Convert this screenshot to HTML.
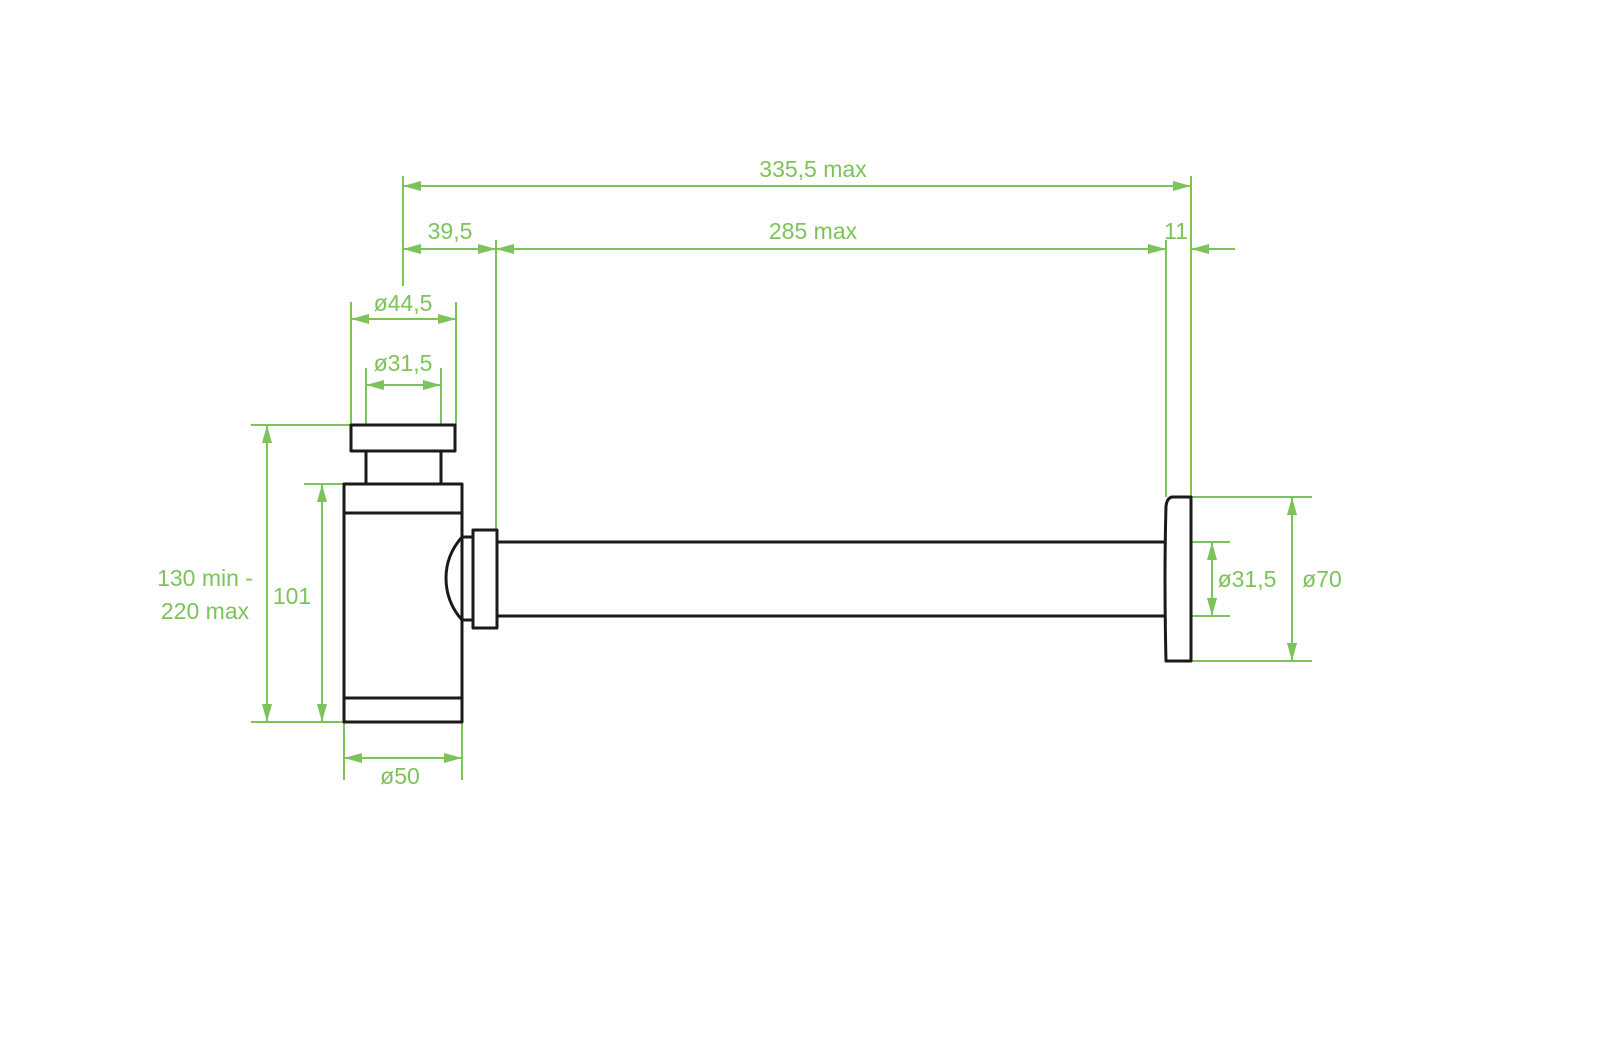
<!DOCTYPE html>
<html><head><meta charset="utf-8"><style>
html,body{margin:0;padding:0;background:#fff;}
svg{display:block;}
text{font-family:"Liberation Sans",sans-serif;font-size:23px;fill:#7cc35a;}
</style></head><body>
<svg width="1600" height="1060" viewBox="0 0 1600 1060" xmlns="http://www.w3.org/2000/svg">
<defs>
<marker id="a" viewBox="0 0 18 10" refX="18" refY="5" markerWidth="18" markerHeight="10" markerUnits="userSpaceOnUse" orient="auto-start-reverse"><path d="M0,0 L18,5 L0,10 Z" fill="#7cc35a"/></marker>
</defs>
<g stroke="#7cc35a" stroke-width="2" fill="none">
<line x1="403" y1="176" x2="403" y2="286"/>
<line x1="1191" y1="176" x2="1191" y2="497"/>
<line x1="496" y1="240" x2="496" y2="530"/>
<line x1="1166" y1="240" x2="1166" y2="497"/>
<line x1="351" y1="302" x2="351" y2="425"/>
<line x1="456" y1="302" x2="456" y2="425"/>
<line x1="366" y1="368" x2="366" y2="425"/>
<line x1="441" y1="368" x2="441" y2="425"/>
<line x1="251" y1="425" x2="351" y2="425"/>
<line x1="251" y1="722" x2="344" y2="722"/>
<line x1="304" y1="484" x2="344" y2="484"/>
<line x1="344" y1="722" x2="344" y2="780"/>
<line x1="462" y1="722" x2="462" y2="780"/>
<line x1="1191" y1="542" x2="1230" y2="542"/>
<line x1="1191" y1="616" x2="1230" y2="616"/>
<line x1="1191" y1="497" x2="1312" y2="497"/>
<line x1="1191" y1="661" x2="1312" y2="661"/>
<line x1="403" y1="186" x2="1191" y2="186" marker-start="url(#a)" marker-end="url(#a)"/>
<line x1="403" y1="249" x2="496" y2="249" marker-start="url(#a)" marker-end="url(#a)"/>
<line x1="496" y1="249" x2="1166" y2="249" marker-start="url(#a)" marker-end="url(#a)"/>
<line x1="1235" y1="249" x2="1191" y2="249" marker-end="url(#a)"/>
<line x1="351" y1="319" x2="456" y2="319" marker-start="url(#a)" marker-end="url(#a)"/>
<line x1="366" y1="385" x2="441" y2="385" marker-start="url(#a)" marker-end="url(#a)"/>
<line x1="267" y1="425" x2="267" y2="722" marker-start="url(#a)" marker-end="url(#a)"/>
<line x1="322" y1="484" x2="322" y2="722" marker-start="url(#a)" marker-end="url(#a)"/>
<line x1="344" y1="758" x2="462" y2="758" marker-start="url(#a)" marker-end="url(#a)"/>
<line x1="1212" y1="542" x2="1212" y2="616" marker-start="url(#a)" marker-end="url(#a)"/>
<line x1="1292" y1="497" x2="1292" y2="661" marker-start="url(#a)" marker-end="url(#a)"/>
</g>
<g stroke="#1a1a1a" stroke-width="3" fill="none" stroke-linejoin="round">
<rect x="351" y="425" width="104" height="26"/>
<rect x="366" y="451" width="75" height="33"/>
<rect x="344" y="484" width="118" height="238"/>
<line x1="344" y1="513" x2="462" y2="513"/>
<line x1="344" y1="698" x2="462" y2="698"/>
<path d="M473,537 L462,537 Q446,555 446,578 Q446,602 462,620 L473,620"/>
<rect x="473" y="530" width="24" height="98"/>
<line x1="497" y1="542" x2="1165" y2="542"/>
<line x1="497" y1="616" x2="1165" y2="616"/>
<path d="M1191,497 L1172,497 Q1167,498 1166,506 Q1164,579 1166,661 L1191,661 Z"/>
</g>
<text x="813" y="177" text-anchor="middle">335,5 max</text>
<text x="450" y="239" text-anchor="middle">39,5</text>
<text x="813" y="239" text-anchor="middle">285 max</text>
<text x="1176" y="239" text-anchor="middle">11</text>
<text x="403" y="311" text-anchor="middle">ø44,5</text>
<text x="403" y="371" text-anchor="middle">ø31,5</text>
<text x="205" y="586" text-anchor="middle">130 min -</text>
<text x="205" y="619" text-anchor="middle">220 max</text>
<text x="292" y="604" text-anchor="middle">101</text>
<text x="400" y="784" text-anchor="middle">ø50</text>
<text x="1247" y="587" text-anchor="middle">ø31,5</text>
<text x="1322" y="587" text-anchor="middle">ø70</text>
</svg>
</body></html>
